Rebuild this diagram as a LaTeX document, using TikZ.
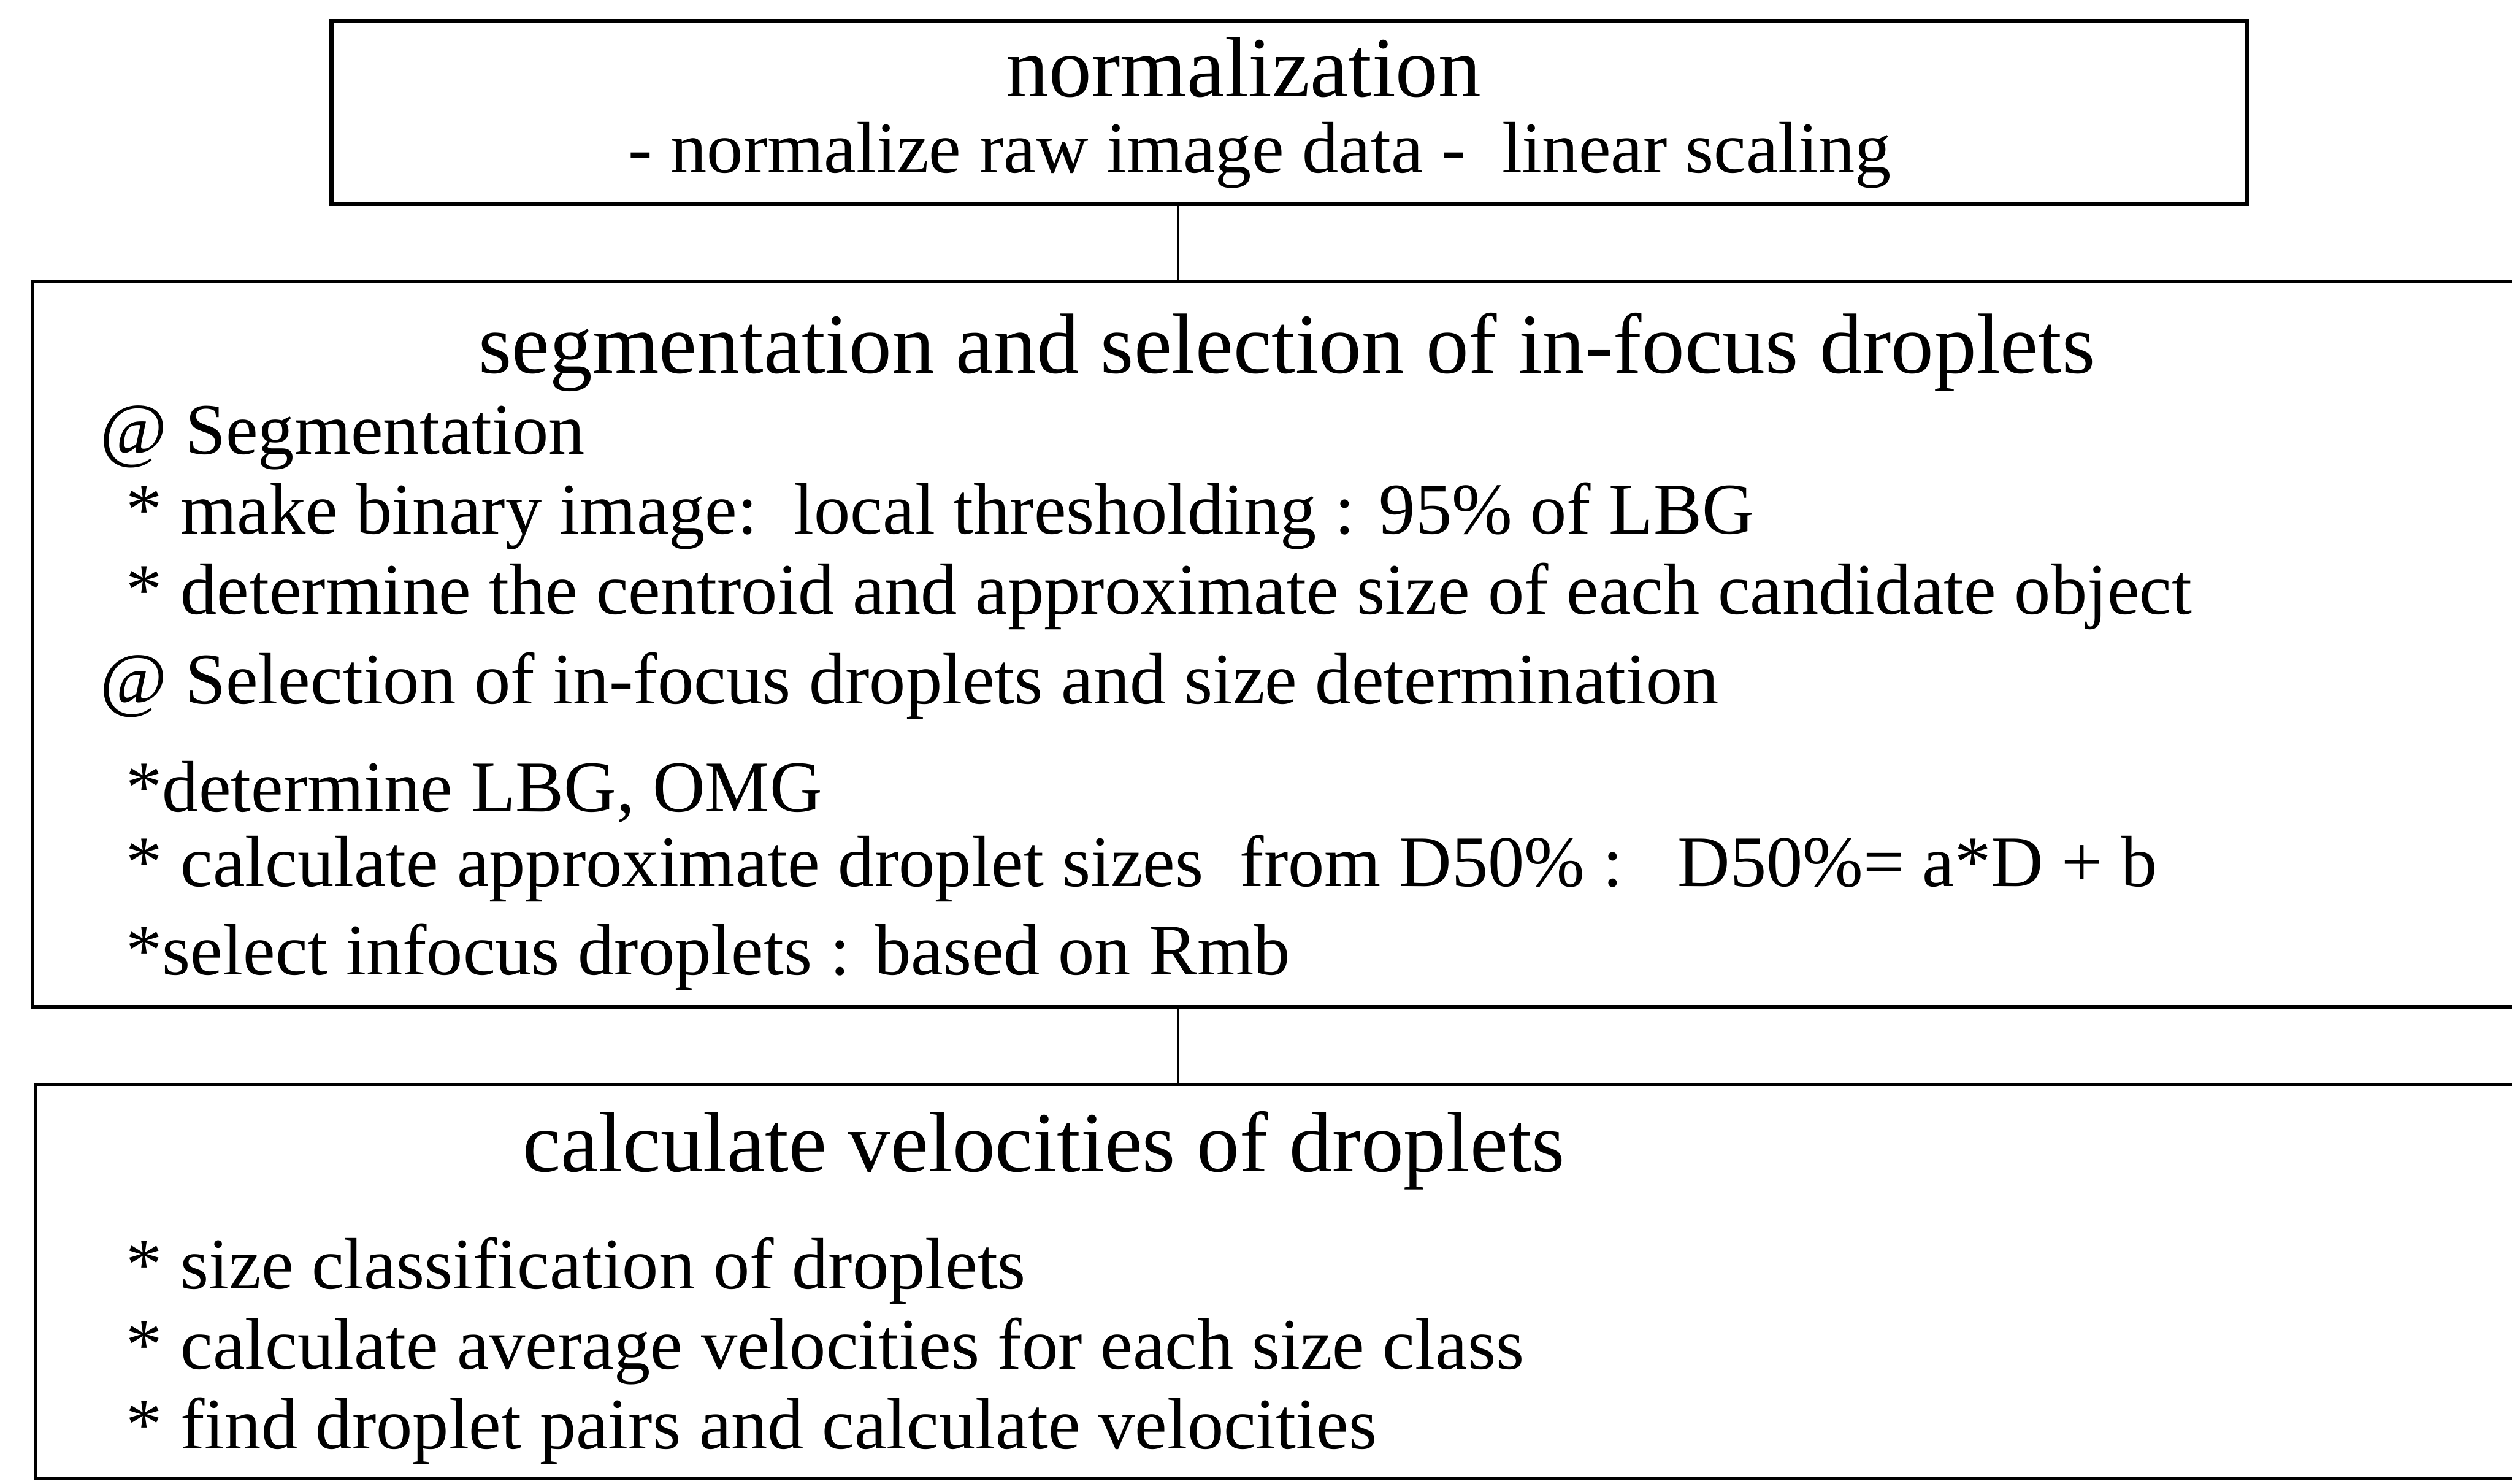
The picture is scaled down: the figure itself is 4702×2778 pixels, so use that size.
\documentclass[tikz,border=0pt]{standalone}
\usepackage{fontspec}
\setmainfont{Liberation Serif}
\begin{document}
\begin{tikzpicture}[x=0.1pt,y=-0.1pt,
  boxa/.style={draw, line width=0.8pt, inner sep=0pt},
  boxb/.style={draw, line width=0.6pt, inner sep=0pt},
  link/.style={line width=0.4pt},
  ttl/.style={inner sep=0pt, font=\fontsize{16}{19}\selectfont},
  sub/.style={inner sep=0pt, font=\fontsize{13.6}{16}\selectfont},
  item/.style={inner sep=0pt, anchor=west, font=\fontsize{13.6}{16}\selectfont}]
\useasboundingbox (0,0) rectangle (4702,2778);
\clip (0,0) rectangle (4702,2778);
% boxes
\node[boxa, minimum width=358.5pt, minimum height=34.2pt] (b1) at (2413,211) {};
\node[boxb, minimum width=470pt, minimum height=135.8pt] (b2) at (2410,1206) {};
\node[boxb, minimum width=469.4pt, minimum height=73.8pt] (b3) at (2413,2399) {};
% connectors
\coordinate (cx) at (2205,0);
\draw[link] (b1.south -| cx) -- (b2.north -| cx);
\draw[link] (b2.south -| cx) -- (b3.north -| cx);
% box 1 text
\node[ttl] (t1) at (2328,126) {normalization};
\node[sub] (t2) at (2358,291) {- normalize raw image data -\ \ linear scaling};
% box 2 text
\node[ttl] (t3) at (2409,660) {segmentation and selection of in-focus droplets};
\node[item] (l1) at (186,819) {@ Segmentation};
\node[item] (l2) at (234,966) {* make binary image:\ \ local thresholding : 95\% of LBG};
\node[item] (l3) at (234,1116) {* determine the centroid and approximate size of each candidate object};
\node[item] (l4) at (186,1284) {@ Selection of in-focus droplets and size determination};
\node[item] (l5) at (234,1482) {*determine LBG, OMG};
\node[item] (l6) at (234,1626) {* calculate approximate droplet sizes\ \ from D50\% :\ \ \ D50\%= a*D + b};
\node[item] (l7) at (234,1791) {*select infocus droplets : based on Rmb};
% box 3 text
\node[ttl] (t4) at (1954,2154) {calculate velocities of droplets};
\node[item] (m1) at (234,2379) {* size classification of droplets};
\node[item] (m2) at (234,2529) {* calculate average velocities for each size class};
\node[item] (m3) at (234,2679) {* find droplet pairs and calculate velocities};
\end{tikzpicture}
\end{document}
